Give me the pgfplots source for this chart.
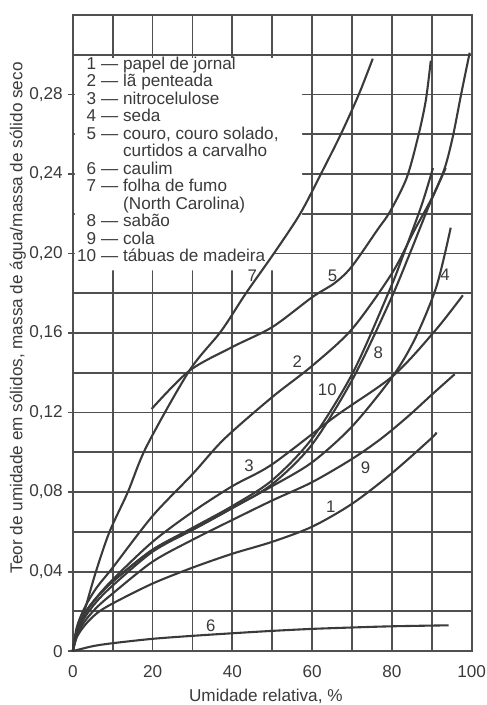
\documentclass[border=0pt]{standalone}
\usepackage{fontspec}
\setmainfont{Liberation Sans}
\usepackage{pgfplots}
\pgfplotsset{compat=1.18}
\definecolor{ink}{HTML}{3A3A3A}
\definecolor{gridc}{HTML}{505050}
\tikzset{
  curve/.style={ink, line width=1.05pt, smooth, no marks},
  lbl/.style={font=\fontsize{8.4}{9}\selectfont, text=ink, inner sep=0pt},
  gl/.style={gridc, line width=0.9pt},
}

\begin{document}
\begin{tikzpicture}
\useasboundingbox (-36.5pt,-27pt) rectangle (207.5pt,326.5pt);
\begin{axis}[
    at={(0,0)}, anchor=south west,
    scale only axis,
    width=200pt, height=319pt,
    xmin=0, xmax=100, ymin=0, ymax=0.32,
    xtick={0,20,40,60,80,100},
    xticklabels={0,20,40,60,80,100},
    ytick={0,0.04,0.08,0.12,0.16,0.20,0.24,0.28},
    yticklabels={0,{0,04},{0,08},{0,12},{0,16},{0,20},{0,24},{0,28}},
    xtick pos=bottom, ytick pos=left,
    tick align=outside,
    major tick length=2.5pt,
    xtick style={/pgfplots/major tick length=0pt},
    ytick style={gridc, line width=0.9pt},
    axis line style={gridc, line width=0.9pt},
    ticklabel style={font=\fontsize{8.6}{9}\selectfont, text=ink},
    xticklabel style={yshift=-1pt},
    yticklabel style={xshift=1pt},
    clip=false,
]
% grid
\pgfplotsinvokeforeach{10,20,30,40,50,60,70,80,90}{
  \draw[gl] (axis cs:#1,0) -- (axis cs:#1,0.32);}
\pgfplotsinvokeforeach{0.02,0.04,0.06,0.08,0.10,0.12,0.14,0.16,0.18,0.20,0.22,0.24,0.26,0.28,0.30}{
  \draw[gl] (axis cs:0,#1) -- (axis cs:100,#1);}
% area behind the legend text
\fill[white] (axis cs:0.5,0.1915) -- (axis cs:50.5,0.1915) -- (axis cs:50.5,0.2085)
  -- (axis cs:57.5,0.2085) -- (axis cs:57.5,0.2983) -- (axis cs:0.5,0.2983) -- cycle;

% 1 papel de jornal
\addplot[curve] coordinates {(0,0) (1,0.007) (3,0.013) (6,0.019) (10,0.024) (20,0.034) (30,0.042) (40,0.049) (50,0.055) (60,0.0626) (70,0.0741) (80,0.0895) (89.75,0.1068) (91.2,0.110)};
% 2 la penteada
\addplot[curve] coordinates {(0,0) (1,0.012) (3,0.022) (6,0.032) (10,0.042) (20,0.068) (30,0.089) (38,0.1068) (50,0.1278) (60,0.1435) (70,0.162) (80,0.19) (85.6,0.2115) (90.3,0.229) (93.25,0.243) (95.3,0.259) (97.4,0.2805) (99.5,0.301)};
% 3 nitrocelulose
\addplot[curve] coordinates {(0,0) (1,0.010) (3,0.019) (6,0.027) (10,0.036) (20,0.055) (30,0.070) (40,0.083) (50,0.094) (65.75,0.118) (80.3,0.1385) (90.75,0.161) (97.8,0.179)};
% 4 seda
\addplot[curve] coordinates {(0,0) (1,0.009) (3,0.017) (6,0.025) (10,0.033) (20,0.050) (30,0.061) (40,0.072) (50,0.083) (60,0.095) (70,0.113) (80.3,0.1385) (86,0.158) (91.2,0.1836) (94.75,0.213)};
% 5 couro
\addplot[curve] coordinates {(19.75,0.1218) (29.2,0.141) (40,0.153) (50,0.163) (60,0.178) (65.75,0.1853) (70,0.1936) (76.4,0.212) (79.5,0.221) (83.7,0.238) (86.6,0.259) (88.5,0.277) (89.75,0.297)};
% 6 caulim
\addplot[curve] coordinates {(0,0) (5,0.0025) (10,0.004) (20,0.0062) (30,0.0077) (40,0.009) (50,0.0102) (60,0.0112) (70,0.0119) (80,0.0125) (94.25,0.013)};
% 7 folha de fumo
\addplot[curve] coordinates {(0,0) (1,0.008) (2.9,0.02) (5.8,0.04) (9.2,0.06) (13.8,0.08) (18.5,0.103) (29.2,0.141) (37.2,0.161) (43.4,0.18) (50.4,0.20) (57,0.22) (62.2,0.24) (67.2,0.26) (71.7,0.28) (75.2,0.298)};
% 8 sabao
\addplot[curve] coordinates {(0,0) (1,0.010) (3,0.019) (6,0.027) (10,0.035) (20,0.051) (30,0.062) (40,0.073) (50,0.086) (60,0.107) (70.2,0.140) (79.5,0.182) (82.8,0.199) (87.4,0.224) (90.3,0.243)};
% 9 cola
\addplot[curve] coordinates {(0,0) (1,0.008) (3,0.015) (6,0.022) (10,0.029) (20,0.045) (30,0.056) (40,0.066) (50,0.0758) (60,0.085) (70.1,0.0968) (77.25,0.1068) (84,0.118) (90,0.129) (95.75,0.1393)};
% 10 tabuas de madeira
\addplot[curve] coordinates {(0,0) (1,0.010) (3,0.019) (6,0.027) (10,0.035) (20,0.051) (30,0.061) (40,0.072) (50,0.084) (60,0.104) (70.2,0.137) (79.5,0.176) (84.5,0.200) (89.5,0.225) (93.5,0.243)};

% labels on the curves
\node[lbl] at (axis cs:45,0.1886) {7};
\node[lbl] at (axis cs:65.1,0.1886) {5};
\node[lbl] at (axis cs:93.3,0.1895) {4};
\node[lbl] at (axis cs:56.3,0.1454) {2};
\node[lbl] at (axis cs:76.6,0.150) {8};
\node[lbl] at (axis cs:63.8,0.1313) {10};
\node[lbl] at (axis cs:44.2,0.0931) {3};
\node[lbl] at (axis cs:73.4,0.0923) {9};
\node[lbl] at (axis cs:64.7,0.0724) {1};
\node[lbl] at (axis cs:34.6,0.0126) {6};

% legend
\node[anchor=north west, inner sep=0pt, text=ink] at (axis cs:1.0,0.2990) {%
  \fontsize{8.6}{8.4}\selectfont
  \begin{tabular}{@{}r@{\hspace{2.5pt}}l@{}}
  1 & — papel de jornal\\
  2 & — lã penteada\\
  3 & — nitrocelulose\\
  4 & — seda\\
  5 & — couro, couro solado,\\
    & \phantom{— }curtidos a carvalho\\
  6 & — caulim\\
  7 & — folha de fumo\\
    & \phantom{— }(North Carolina)\\
  8 & — sabão\\
  9 & — cola\\
  10 & — tábuas de madeira
  \end{tabular}};

% axis titles
\node[rotate=90, text=ink, font=\fontsize{8.6}{9}\selectfont] at ([xshift=-27.5pt]rel axis cs:0,0.524)
  {Teor de umidade em sólidos, massa de água/massa de sólido seco};
\node[text=ink, font=\fontsize{8.6}{9}\selectfont] at ([yshift=-22.5pt]rel axis cs:0.484,0)
  {Umidade relativa, \%};
\end{axis}
\end{tikzpicture}
\end{document}
